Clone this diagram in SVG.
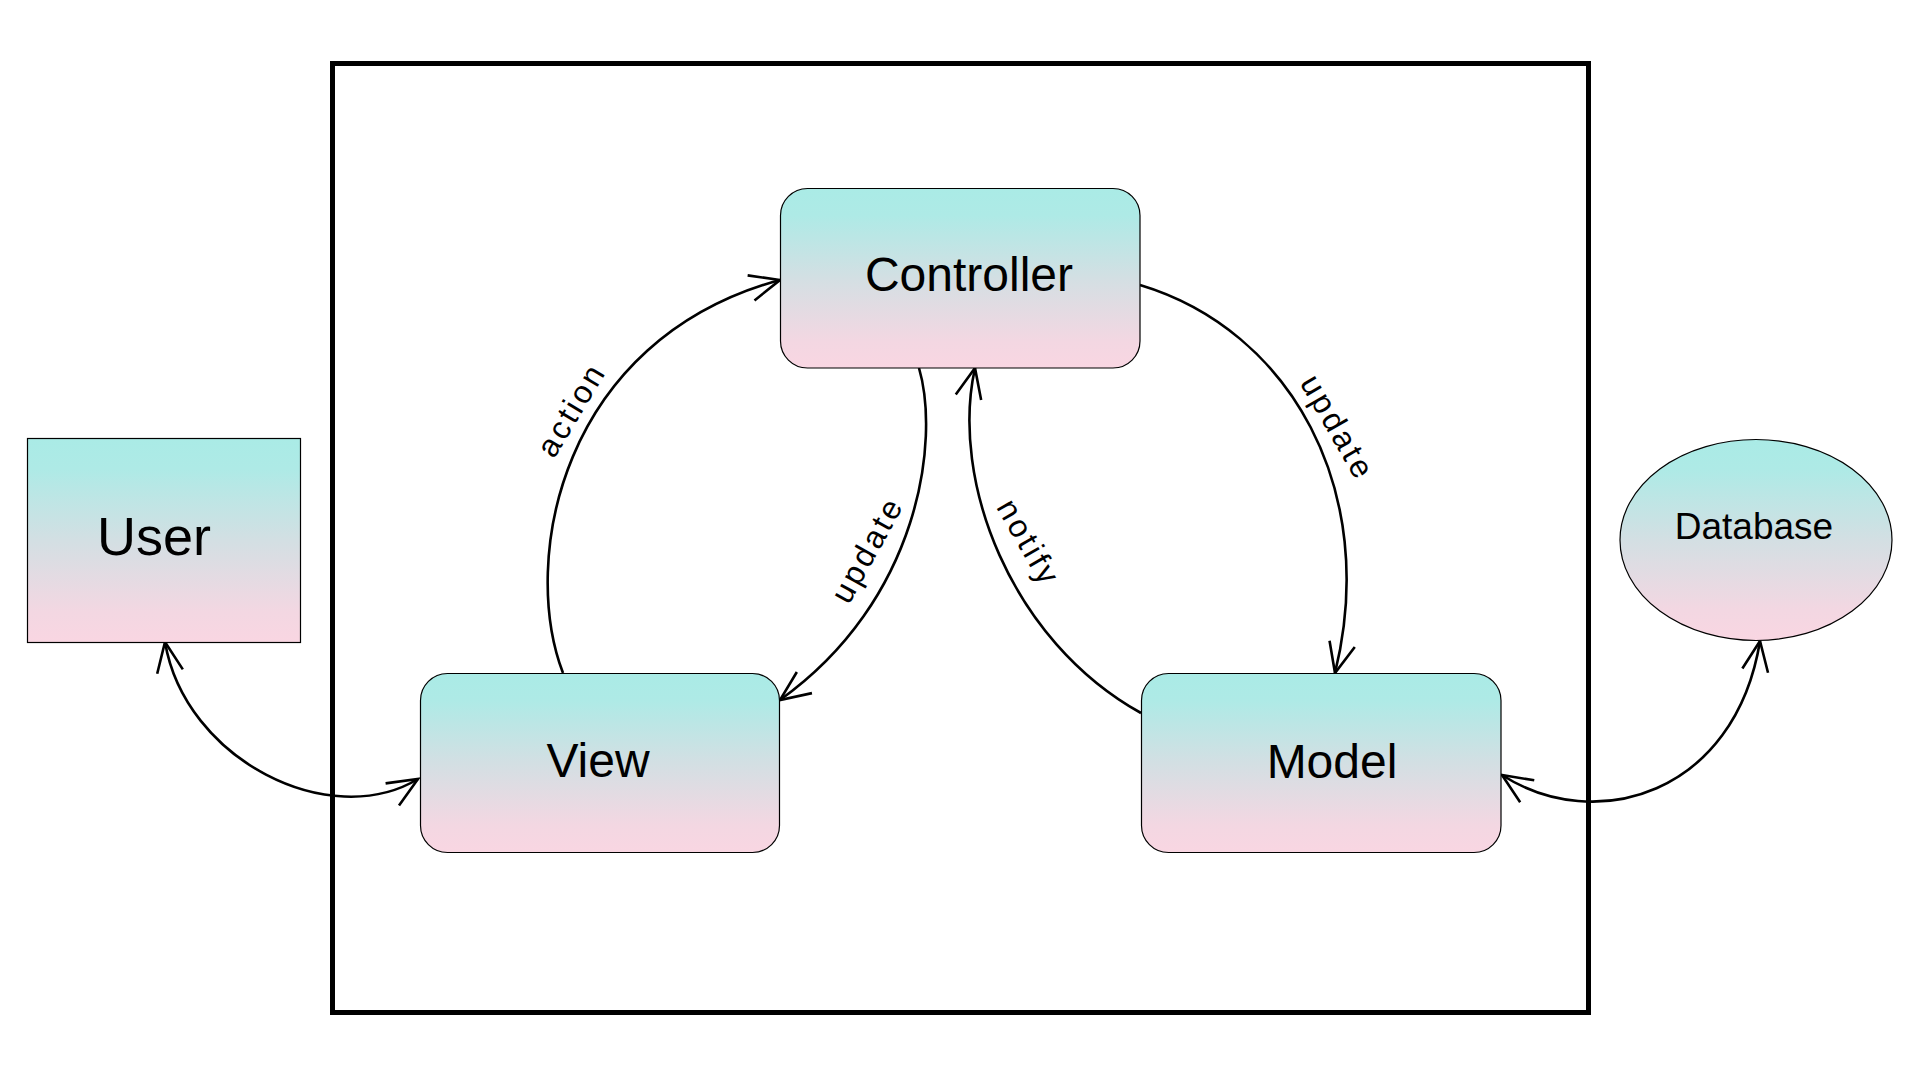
<svg xmlns="http://www.w3.org/2000/svg" width="1920" height="1080" viewBox="0 0 1920 1080">
  <defs>
    <linearGradient id="nodeFill" x1="0" y1="0" x2="0" y2="1">
      <stop offset="0" stop-color="#aaebe6"/>
      <stop offset="0.15" stop-color="#aeeae6"/>
      <stop offset="0.5" stop-color="#d3dfe3"/>
      <stop offset="0.85" stop-color="#f3d7e2"/>
      <stop offset="1" stop-color="#f9d6e2"/>
    </linearGradient>
    <marker id="arrow" markerUnits="userSpaceOnUse" viewBox="-34 -16 38 32" markerWidth="38" markerHeight="32" refX="0" refY="0" orient="auto-start-reverse" overflow="visible">
      <path d="M-30,-13 L0,0 L-30,13" fill="none" stroke="#000" stroke-width="2.6" stroke-linejoin="miter"/>
    </marker>
    <style>
      .node { fill: url(#nodeFill); stroke: #000; stroke-width: 1.2; }
      .frame { fill: none; stroke: #000; stroke-width: 5; }
      .conn { fill: none; stroke: #000; stroke-width: 2.6; }
      .lbl { font-family: "Liberation Sans", Arial, sans-serif; fill: #000; text-anchor: middle; }
      .big { font-size: 48px; }
      .edge { font-size: 32px; letter-spacing: 3px; }
    </style>
  </defs>
  <rect width="1920" height="1080" fill="#fff"/>
  <rect class="frame" x="332.5" y="63.5" width="1256" height="949"/>

  <g id="connectors">
    <path class="conn" d="M165,642 C185,760 330,832 418,779" marker-start="url(#arrow)" marker-end="url(#arrow)"/>
    <path class="conn" d="M563,673 C520,560 560,340 780,280" marker-end="url(#arrow)"/>
    <path class="conn" d="M919,368 C940,440 920,600 780,700" marker-end="url(#arrow)"/>
    <path class="conn" d="M1141,713 C1010,640 950,480 975,368" marker-end="url(#arrow)"/>
    <path class="conn" d="M1140,285 C1290,330 1380,490 1335,673" marker-end="url(#arrow)"/>
    <path class="conn" d="M1502,775 C1595,835 1735,795 1760,641" marker-start="url(#arrow)" marker-end="url(#arrow)"/>
    <text class="lbl edge" transform="translate(572,410) rotate(-59)" y="10">action</text>
    <text class="lbl edge" transform="translate(868,550) rotate(-61)" y="10">update</text>
    <text class="lbl edge" transform="translate(1337,428) rotate(60)" y="10">update</text>
    <text class="lbl edge" transform="translate(1028,543) rotate(60)" y="10">notify</text>
  </g>

  <g id="user">
    <rect class="node" x="27.5" y="438.5" width="273" height="204"/>
    <text class="lbl" x="154" y="555" font-size="54">User</text>
  </g>
  <g id="controller">
    <rect class="node" x="780.5" y="188.5" width="359.5" height="179.5" rx="27" ry="27"/>
    <text class="lbl big" x="969" y="291">Controller</text>
  </g>
  <g id="view">
    <rect class="node" x="420.5" y="673.5" width="359" height="179" rx="27" ry="27"/>
    <text class="lbl big" x="598" y="777">View</text>
  </g>
  <g id="model">
    <rect class="node" x="1141.5" y="673.5" width="359.5" height="179" rx="27" ry="27"/>
    <text class="lbl big" x="1332" y="778">Model</text>
  </g>
  <g id="database">
    <ellipse class="node" cx="1756" cy="540" rx="136" ry="100.5"/>
    <text class="lbl" x="1754" y="539" font-size="37">Database</text>
  </g>
</svg>
